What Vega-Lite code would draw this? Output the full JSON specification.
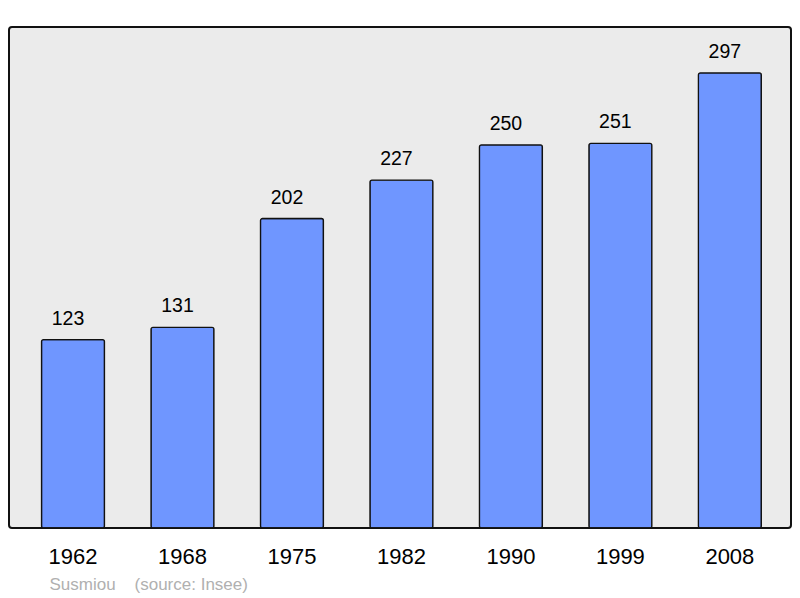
{
  "$schema": "https://vega.github.io/schema/vega-lite/v6.json",
  "width": 782,
  "height": 501,
  "autosize": {"type": "none"},
  "padding": {"left": 9, "top": 27, "right": 9, "bottom": 70},
  "background": "white",
  "config": {
    "view": {"fill": "#ebebeb", "stroke": "#111111", "strokeWidth": 2, "cornerRadius": 3},
    "font": "Liberation Sans"
  },
  "data": {
    "values": [
      {"year": "1962", "pop": 123},
      {"year": "1968", "pop": 131},
      {"year": "1975", "pop": 202},
      {"year": "1982", "pop": 227},
      {"year": "1990", "pop": 250},
      {"year": "1999", "pop": 251},
      {"year": "2008", "pop": 297}
    ]
  },
  "encoding": {
    "x": {
      "field": "year",
      "type": "ordinal",
      "scale": {"paddingInner": 0.425, "paddingOuter": 0.284, "align": 0.523},
      "axis": {
        "domain": false,
        "ticks": false,
        "grid": false,
        "labelAngle": 0,
        "labelFontSize": 22,
        "labelColor": "#000000",
        "labelBaseline": "alphabetic",
        "labelPadding": 35,
        "title": "Susmiou\u00a0\u00a0\u00a0\u00a0(source: Insee)",
        "titleFontSize": 17,
        "titleFontWeight": "normal",
        "titleColor": "#b0b0b0",
        "titleAnchor": "start",
        "titleAlign": "left",
        "titleBaseline": "alphabetic",
        "titleX": 40,
        "titleY": 61
      }
    },
    "y": {
      "field": "pop",
      "type": "quantitative",
      "scale": {"domain": [0, 327], "nice": false},
      "axis": null
    }
  },
  "layer": [
    {
      "mark": {"type": "bar", "fill": "#6f96ff", "stroke": "#111111", "strokeWidth": 1.3, "cornerRadius": 2}
    },
    {
      "mark": {"type": "text", "baseline": "alphabetic", "dy": -15, "dx": -5, "fontSize": 19.5, "color": "#000000"},
      "encoding": {"text": {"field": "pop", "type": "quantitative"}}
    }
  ]
}
